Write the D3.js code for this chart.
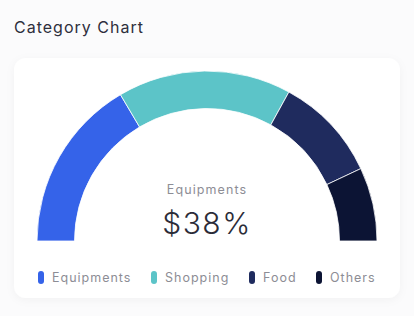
<!DOCTYPE html>
<html>
<head>
<meta charset="utf-8">
<script src="https://cdn.jsdelivr.net/npm/d3@7"></script>
<style>
  html, body { margin: 0; padding: 0; background: #fbfbfc; }
  svg { display: block; font-family: Inter, "Noto Sans", sans-serif; }
</style>
</head>
<body>
<svg id="chart" width="414" height="316"></svg>
<script>
const categories = ["Equipments", "Shopping", "Food", "Others"];
const values = [33, 33, 20, 14];
const colors = ["#3563e9", "#5cc4c8", "#1f2b5e", "#0c1434"];
const centerLabel = "Equipments";
const centerValue = "$38%";

const svg = d3.select("#chart");

// soft shadow for the card
const defs = svg.append("defs");
const filter = defs.append("filter")
	.attr("id", "shadow")
	.attr("x", "-10%").attr("y", "-10%")
	.attr("width", "120%").attr("height", "130%");
filter.append("feDropShadow")
	.attr("dx", 0).attr("dy", 2)
	.attr("stdDeviation", 4)
	.attr("flood-color", "#000")
	.attr("flood-opacity", 0.04);

svg.append("text")
	.attr("x", 14)
	.attr("y", 33)
	.attr("font-size", 16)
	.attr("font-weight", 400)
	.attr("letter-spacing", "1px")
	.attr("fill", "#2e2f3c")
	.text("Category Chart");

svg.append("rect")
	.attr("x", 14)
	.attr("y", 58)
	.attr("width", 386)
	.attr("height", 240)
	.attr("rx", 12)
	.attr("fill", "#ffffff")
	.attr("filter", "url(#shadow)");

// half donut
const cx = 207, cy = 241;
const pie = d3.pie()
	.sort(null)
	.startAngle(-Math.PI / 2)
	.endAngle(Math.PI / 2)
	.value(d => d.value);

const arc = d3.arc()
	.innerRadius(132.5)
	.outerRadius(170);

const data = categories.map((c, i) => ({ name: c, value: values[i], color: colors[i] }));

const g = svg.append("g")
	.attr("transform", "translate(" + cx + "," + cy + ")");

g.selectAll("path")
	.data(pie(data))
	.enter()
	.append("path")
		.attr("d", arc)
		.attr("fill", d => d.data.color)
		.attr("stroke", "#ffffff")
		.attr("stroke-width", 0.8);

// center text
g.append("text")
	.attr("x", 0)
	.attr("y", -47)
	.attr("text-anchor", "middle")
	.attr("font-size", 12.5)
	.attr("letter-spacing", "1.1px")
	.attr("fill", "#8d8d95")
	.text(centerLabel);

g.append("text")
	.attr("x", 0)
	.attr("y", -7)
	.attr("text-anchor", "middle")
	.attr("font-size", 30)
	.attr("font-weight", 300)
	.attr("letter-spacing", "1.5px")
	.attr("fill", "#2b2c38")
	.text(centerValue);

// legend
const legendPos = [38, 151, 249, 316];

const legend = svg.selectAll(".legend")
	.data(data)
	.enter()
	.append("g")
		.attr("class", "legend")
		.attr("transform", (d, i) => "translate(" + legendPos[i] + ",271)");

legend.append("rect")
	.attr("x", 0)
	.attr("y", 0)
	.attr("width", 6)
	.attr("height", 13)
	.attr("rx", 3)
	.attr("fill", d => d.color);

legend.append("text")
	.attr("x", 14)
	.attr("y", 11)
	.attr("font-size", 12.5)
	.attr("letter-spacing", "1px")
	.attr("fill", "#8d8d95")
	.text(d => d.name);
</script>
</body>
</html>
